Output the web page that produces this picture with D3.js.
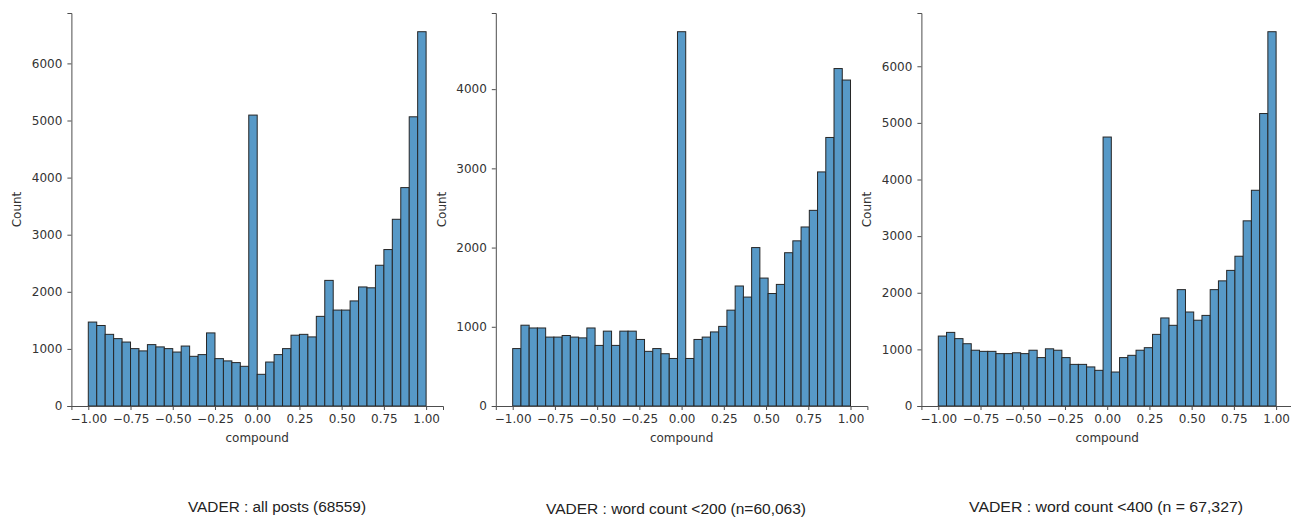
<!DOCTYPE html>
<html>
<head>
<meta charset="utf-8">
<script src="https://cdn.jsdelivr.net/npm/d3@7"></script>
<style>
  body { margin: 0; background: #fff; }
  svg { display: block; }
  .tick text { font-family: "DejaVu Sans", sans-serif; font-size: 12px; fill: #333; }
  .axis path, .axis line { stroke: #4d4d4d; }
  .axis-title { font-family: "DejaVu Sans", sans-serif; font-size: 12px; fill: #333; }
  .caption { font-family: "Liberation Sans Narrow", "Arial Narrow", "Liberation Sans", sans-serif; font-size: 14px; fill: #222; }
</style>
</head>
<body>
<svg id="chart" width="1291" height="517"></svg>
<script>
// counts per bin, left to right
const allPosts = [1470, 1410, 1255, 1180, 1120, 1005, 965, 1075, 1035, 1005,
  945, 1050, 870, 900, 1280, 830, 790, 760, 695, 5095,
  555, 770, 900, 1005, 1240, 1255, 1210, 1570, 2200, 1680,
  1680, 1840, 2085, 2070, 2465, 2740, 3270, 3825, 5065, 6555];

const wc200 = [725, 1020, 985, 985, 870, 870, 890, 870, 860, 985,
  765, 945, 765, 945, 945, 840, 690, 725, 660, 600,
  4725, 600, 840, 870, 935, 1005, 1210, 1515, 1375, 2000,
  1615, 1420, 1535, 1935, 2085, 2260, 2470, 2955, 3390, 4260, 4115];

const wc400 = [1235, 1300, 1190, 1100, 985, 965, 965, 925, 925, 940,
  925, 985, 855, 1010, 985, 855, 735, 735, 690, 630,
  4750, 600, 855, 895, 985, 1030, 1265, 1555, 1425, 2055,
  1660, 1515, 1600, 2055, 2210, 2395, 2645, 3270, 3810, 5165, 6610];

const xTicks = [-1, -0.75, -0.5, -0.25, 0, 0.25, 0.5, 0.75, 1];
const yTicks1 = [0, 1000, 2000, 3000, 4000, 5000, 6000];
const yTicks2 = [0, 1000, 2000, 3000, 4000];
const yTicks3 = [0, 1000, 2000, 3000, 4000, 5000, 6000];

const captions = [
  'VADER : all posts (68559)',
  'VADER : word count <200 (n=60,063)',
  'VADER : word count <400 (n = 67,327)'
];

const panels = [
  {counts: allPosts, yTicks: yTicks1, left: 71.4, caption: captions[0], capX: 277, capW: 178, capY: 512},
  {counts: wc200, yTicks: yTicks2, left: 495.8, caption: captions[1], capX: 676, capW: 260, capY: 514},
  {counts: wc400, yTicks: yTicks3, left: 921.4, caption: captions[2], capX: 1106, capW: 274, capY: 512}
];

const plotW = 371.6;
const plotTop = 13;
const plotBottom = 406;

const svg = d3.select('#chart');

panels.forEach(p => {
  const g = svg.append('g').attr('transform', 'translate(' + p.left + ',0)');

  const x = d3.scaleLinear().domain([-1.1, 1.1]).range([0, plotW]);
  const y = d3.scaleLinear().domain([0, d3.max(p.counts) * 1.05]).range([plotBottom, plotTop]);

  const n = p.counts.length;
  const binW = 2 / n;
  const bins = p.counts.map((c, i) => ({x0: -1 + i * binW, x1: -1 + (i + 1) * binW, count: c}));

  g.selectAll('.bar')
    .data(bins)
    .enter().append('rect')
    .attr('class', 'bar')
    .attr('x', d => x(d.x0))
    .attr('y', d => y(d.count))
    .attr('width', d => x(d.x1) - x(d.x0))
    .attr('height', d => y(0) - y(d.count))
    .attr('fill', '#5799c7')
    .attr('stroke', '#262626')
    .attr('stroke-width', 1);

  g.append('g')
    .attr('class', 'axis')
    .attr('transform', 'translate(0,' + plotBottom + ')')
    .call(d3.axisBottom(x).tickValues(xTicks).tickFormat(d3.format('.2f')).tickSizeOuter(0).tickSize(4).tickPadding(4))
    .selectAll('text').text(d => d3.format('.2f')(d).replace('-', '\u2212'));

  g.append('g')
    .attr('class', 'axis')
    .call(d3.axisLeft(y).tickValues(p.yTicks).tickFormat(d3.format('d')).tickSizeOuter(0).tickSize(4).tickPadding(5));

  g.append('text')
    .attr('class', 'axis-title')
    .attr('x', plotW / 2)
    .attr('y', 442)
    .attr('text-anchor', 'middle')
    .text('compound');

  g.append('text')
    .attr('class', 'axis-title')
    .attr('transform', 'translate(-50,' + ((plotTop + plotBottom) / 2) + ') rotate(-90)')
    .attr('text-anchor', 'middle')
    .text('Count');

  svg.append('text')
    .attr('class', 'caption')
    .attr('x', p.capX)
    .attr('y', p.capY)
    .attr('text-anchor', 'middle')
    .attr('textLength', p.capW)
    .attr('lengthAdjust', 'spacingAndGlyphs')
    .text(p.caption);
});
</script>
</body>
</html>
